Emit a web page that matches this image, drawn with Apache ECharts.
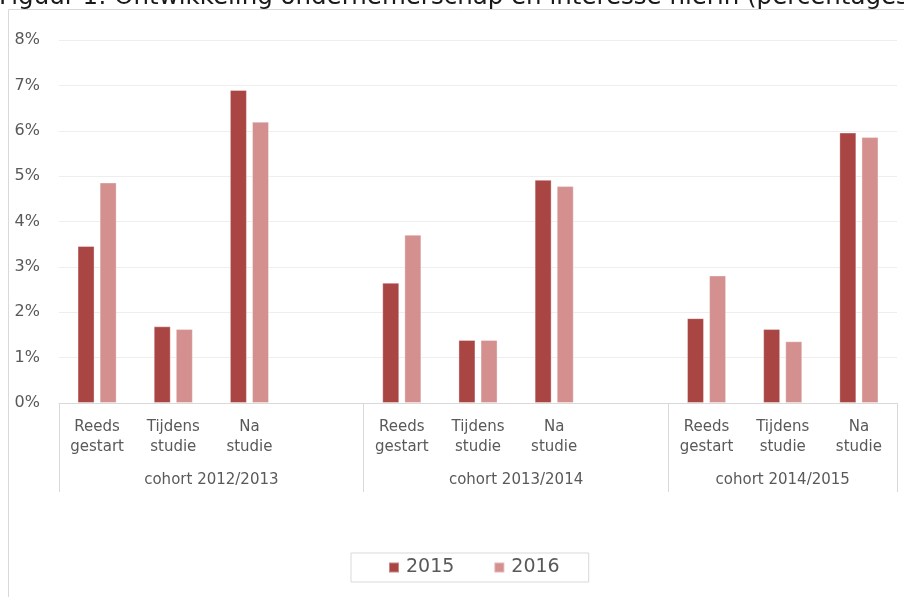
<!DOCTYPE html>
<html>
<head>
<meta charset="utf-8">
<script src="https://cdn.jsdelivr.net/npm/echarts@6/dist/echarts.min.js"></script>
<style>
  html, body { margin: 0; padding: 0; background: #fff; }
  #chart { width: 904px; height: 597px; }
</style>
</head>
<body>
<div id="chart"></div>
<script>
// categories, blank slot after the first two cohorts like the original
var categories = ['Reeds\ngestart', 'Tijdens\nstudie', 'Na\nstudie', '',
  'Reeds\ngestart', 'Tijdens\nstudie', 'Na\nstudie', '',
  'Reeds\ngestart', 'Tijdens\nstudie', 'Na\nstudie']
var cohorts = ['cohort 2012/2013', 'cohort 2013/2014', 'cohort 2014/2015']
var cohortCenters = [2, 6, 9.5]
var cohortEdges = [0, 4, 8, 11]
var values2015 = [3.46, 1.69, 6.90, null, 2.65, 1.39, 4.92, null, 1.87, 1.63, 5.96]
var values2016 = [4.86, 1.63, 6.20, null, 3.71, 1.39, 4.78, null, 2.81, 1.36, 5.86]
var yTicks = [0, 1, 2, 3, 4, 5, 6, 7, 8]

var font = 'DejaVu Sans'
var textColor = '#595959'
var lineColor = '#d9d9d9'

var chart = echarts.init(document.getElementById('chart'))
var options = {
  animation: false,
  color: ['#a94543', '#d3908f'],
  graphic: [{
    type: 'rect',
    shape: { x: 8.5, y: 9.5, width: 2000, height: 2000 },
    style: { fill: 'none', stroke: lineColor, lineWidth: 1 }
  }, {
    type: 'text',
    left: -1,
    top: -15,
    style: {
      text: 'Figuur 1: Ontwikkeling ondernemerschap en interesse hierin (percentages)',
      font: '24.5px "DejaVu Sans"',
      fill: '#1a1a1a'
    }
  }],
  legend: {
    left: 351,
    top: 553,
    padding: [5, 29, 5, 37],
    itemGap: 39,
    itemWidth: 10,
    itemHeight: 10,
    icon: 'rect',
    borderColor: lineColor,
    borderWidth: 1,
    textStyle: { color: textColor, fontSize: 19, fontFamily: font, padding: [0, 0, 0, 2] },
    data: ['2015', '2016']
  },
  grid: {
    left: 59,
    right: 7,
    top: 40,
    bottom: 194,
    containLabel: false
  },
  xAxis: [{
    type: 'category',
    data: categories,
    axisLine: { lineStyle: { color: lineColor, width: 1 } },
    axisTick: { show: false },
    axisLabel: {
      interval: 0,
      margin: 14,
      color: textColor,
      fontSize: 15,
      fontFamily: font,
      lineHeight: 20
    },
    splitLine: { show: false }
  }, {
    type: 'value',
    min: 0,
    max: 11,
    position: 'bottom',
    axisLine: { show: false },
    axisTick: {
      show: true,
      customValues: cohortEdges,
      length: 89,
      lineStyle: { color: lineColor, width: 1 }
    },
    axisLabel: {
      customValues: cohortCenters,
      margin: 70,
      color: textColor,
      fontSize: 15,
      fontFamily: font,
      formatter: function (v) {
        return cohorts[cohortCenters.indexOf(v)]
      }
    },
    splitLine: { show: false }
  }],
  yAxis: {
    type: 'value',
    min: yTicks[0],
    max: yTicks[yTicks.length - 1],
    interval: 1,
    axisLine: { show: false },
    axisTick: { show: false },
    axisLabel: {
      margin: 19,
      color: textColor,
      fontSize: 16,
      fontFamily: font,
      formatter: '{value}%'
    },
    splitLine: { lineStyle: { color: '#eeeeee', width: 1 } }
  },
  series: [{
    name: '2015',
    type: 'bar',
    xAxisIndex: 0,
    barWidth: 17,
    barGap: '30%',
    itemStyle: { borderColor: 'rgba(255,255,255,0.35)', borderWidth: 1 },
    data: values2015
  }, {
    name: '2016',
    type: 'bar',
    xAxisIndex: 0,
    barWidth: 17,
    barGap: '30%',
    itemStyle: { borderColor: 'rgba(255,255,255,0.35)', borderWidth: 1 },
    data: values2016
  }]
}
chart.setOption(options)
</script>
</body>
</html>
